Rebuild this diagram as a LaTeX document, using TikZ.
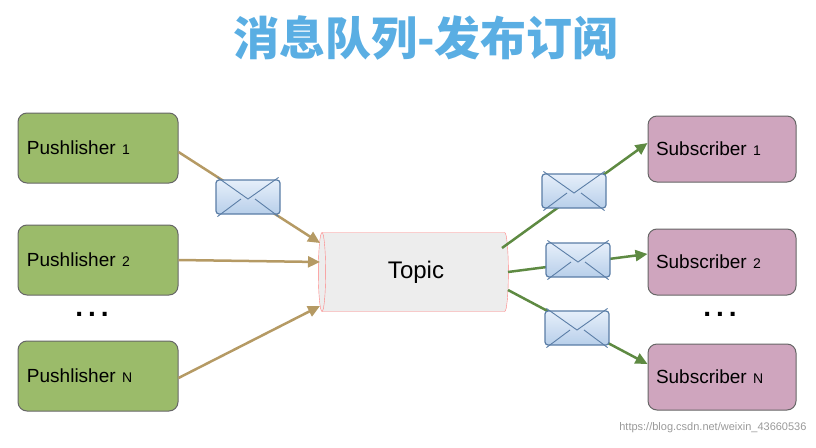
\documentclass[tikz,border=0pt]{standalone}
\usepackage{fontspec}
\setmainfont{Liberation Sans}
\newfontfamily\cjk{Noto Sans CJK SC}
\usetikzlibrary{shapes.geometric,arrows.meta}
\definecolor{pubg}{HTML}{9BBB6A}
\definecolor{subp}{HTML}{CFA5BE}
\definecolor{inarr}{HTML}{B59A64}
\definecolor{outarr}{HTML}{5E8A42}
\definecolor{ttl}{HTML}{5AAEE3}
\definecolor{envb}{HTML}{5A7DA6}
\definecolor{envt}{HTML}{E6EFFA}
\definecolor{envbot}{HTML}{B8CFEA}
\tikzset{
 pub/.style={draw=black!60,line width=1pt,fill=pubg,rounded corners=9pt,inner xsep=9pt,text width=142pt,align=left,minimum height=70pt,font=\fontsize{19}{22}\selectfont},
 sub/.style={draw=black!60,line width=1pt,fill=subp,rounded corners=9pt,inner xsep=8pt,text width=132pt,align=left,minimum height=66pt,font=\fontsize{19}{22}\selectfont},
 inA/.style={draw=inarr,line width=2.5pt,-{Triangle[length=12pt,width=11pt]}},
 outA/.style={draw=outarr,line width=2.5pt,-{Triangle[length=12pt,width=11pt]}},
 env/.style={draw=envb,line width=1.2pt,rounded corners=3pt,top color=envt,bottom color=envbot,minimum width=64pt,minimum height=34pt,inner sep=0pt}
}
\newcommand{\envel}[2]{\node[env] (#1) at #2 {};
 \draw[envb,line width=0.9pt] ([xshift=2pt,yshift=2pt]#1.north west) -- ([yshift=-2pt]#1.center) -- ([xshift=-2pt,yshift=2pt]#1.north east);
 \draw[envb,line width=0.9pt] ([xshift=2pt,yshift=-2pt]#1.south west) -- ([xshift=-7pt,yshift=-2pt]#1.center);
 \draw[envb,line width=0.9pt] ([xshift=-2pt,yshift=-2pt]#1.south east) -- ([xshift=7pt,yshift=-2pt]#1.center);}
\begin{document}
\begin{tikzpicture}[x=1pt,y=-1pt]
\useasboundingbox (0,0) rectangle (816,447);
\node[font=\cjk\bfseries\fontsize{46}{52}\selectfont,text=ttl] (title) at (426,38) {消息队列-发布订阅};
\node[pub] (p1) at (98,148) {Pushlisher {\fontsize{14}{15}\selectfont 1}};
\node[pub] (p2) at (98,260) {Pushlisher {\fontsize{14}{15}\selectfont 2}};
\node[pub] (pn) at (98,376) {Pushlisher {\fontsize{14}{15}\selectfont N}};
\node[sub] (s1) at (722,149) {Subscriber {\fontsize{14}{15}\selectfont 1}};
\node[sub] (s2) at (722,262) {Subscriber {\fontsize{14}{15}\selectfont 2}};
\node[sub] (sn) at (722,377) {Subscriber {\fontsize{14}{15}\selectfont N}};
\node[font=\bfseries\fontsize{28}{28}\selectfont] (d1) at (92,314) {.\hspace{5pt}.\hspace{5pt}.};
\node[font=\bfseries\fontsize{28}{28}\selectfont] (d2) at (720,314) {.\hspace{5pt}.\hspace{5pt}.};
\node[cylinder,shape border rotate=180,aspect=0.25,draw=red!50,fill=black!7,minimum width=79pt,minimum height=190pt,font=\fontsize{24}{24}\selectfont] (topic) at (416,272) {Topic};
\coordinate (ti1) at (320,243); \coordinate (ti2) at (320,262); \coordinate (ti3) at (320,306);
\coordinate (to1) at (502,248); \coordinate (to2) at (508,272); \coordinate (to3) at (508,290);
\draw[inA] (p1.east |- 0,152) -- (ti1);
\draw[inA] (p2.east) -- (ti2);
\draw[inA] (pn.east |- 0,378) -- (ti3);
\draw[outA] (to1) -- (s1.west |- 0,143);
\draw[outA] (to2) -- (s2.west |- 0,254);
\draw[outA] (to3) -- (sn.west |- 0,364);
\envel{e0}{(248,197)}
\envel{e1}{(574,191)}
\envel{e2}{(578,260)}
\envel{e3}{(577,328)}
\node[text=black!40,font=\fontsize{11}{12}\selectfont,anchor=east] (wm) at (810,428) {https://blog.csdn.net/weixin\_43660536};
\end{tikzpicture}
\end{document}
